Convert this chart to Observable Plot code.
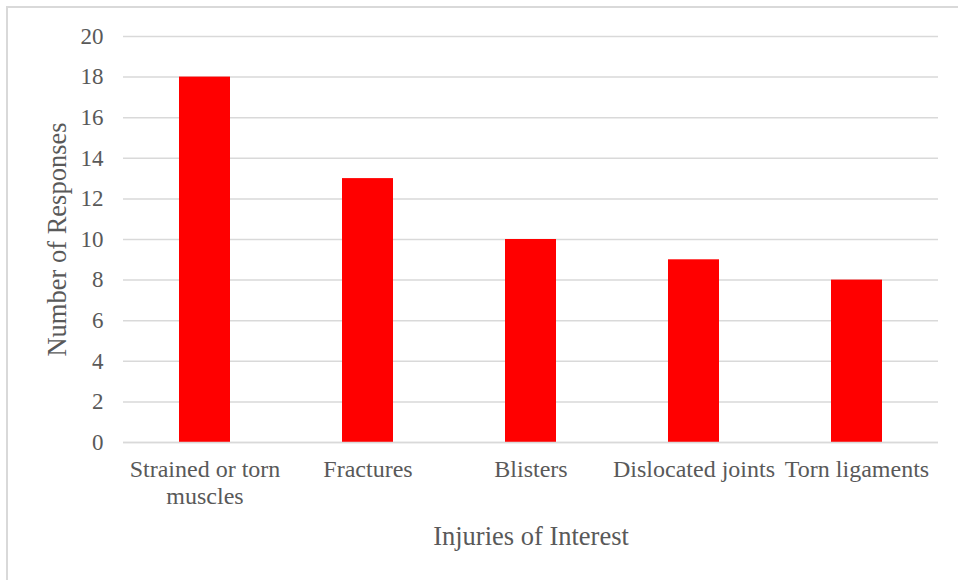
<!DOCTYPE html>
<html>
<head>
<meta charset="utf-8">
<script src="https://cdn.jsdelivr.net/npm/d3@7"></script>
<script src="https://cdn.jsdelivr.net/npm/@observablehq/plot@0.6"></script>
<style>
  html, body { margin: 0; padding: 0; background: #fff; }
  #wrap { position: relative; width: 958px; height: 580px; overflow: hidden; }
  #frame { position: absolute; left: 6px; top: 6px; width: 980px; height: 600px;
           border-left: 2px solid #d9d9d9; border-top: 2px solid #d9d9d9; box-sizing: border-box; }
  #chart { position: absolute; left: 0; top: 0; }
</style>
</head>
<body>
<div id="wrap"><div id="frame"></div><div id="chart"></div></div>
<script>
const categories = ["Strained or torn muscles", "Fractures", "Blisters", "Dislocated joints", "Torn ligaments"];
const tickLabels = ["Strained or torn\nmuscles", "Fractures", "Blisters", "Dislocated joints", "Torn ligaments"];
const responses = [18, 13, 10, 9, 8];
const yTicks = [0, 2, 4, 6, 8, 10, 12, 14, 16, 18, 20];
const xTitle = "Injuries of Interest";
const yTitle = "Number of Responses";

const data = categories.map((c, i) => ({category: c, value: responses[i]}));
const labelOf = new Map(categories.map((c, i) => [c, tickLabels[i]]));
const textColor = "#595959";

const chart = Plot.plot({
  width: 958,
  height: 580,
  marginLeft: 123,
  marginRight: 20,
  marginTop: 36,
  marginBottom: 138,
  style: {fontFamily: "'Liberation Serif', 'Times New Roman', serif", background: "transparent", color: textColor, overflow: "visible"},
  x: {domain: categories, paddingInner: 0.687, paddingOuter: 0.3435},
  y: {domain: [0, 20]},
  marks: [
    Plot.gridY(yTicks, {stroke: "#d9d9d9", strokeOpacity: 1, strokeWidth: 1.5}),
    Plot.barY(data, {x: "category", y: "value", fill: "#ff0000"}),
    Plot.ruleY([0], {stroke: "#d9d9d9", strokeWidth: 1.5}),
    Plot.axisY(yTicks, {tickSize: 0, tickPadding: 20, fontSize: 23, fill: textColor, label: null}),
    Plot.axisX({tickSize: 0, tickPadding: 15, fontSize: 24, fill: textColor, lineHeight: 1.13,
                tickFormat: d => labelOf.get(d), label: null}),
    Plot.text([xTitle], {frameAnchor: "bottom", dy: 102, fontSize: 26.5, fill: textColor}),
    Plot.text([yTitle], {frameAnchor: "left", textAnchor: "middle", lineAnchor: "middle", dx: -66, rotate: -90, fontSize: 26.5, fill: textColor})
  ]
});
document.getElementById("chart").appendChild(chart);
</script>
</body>
</html>
